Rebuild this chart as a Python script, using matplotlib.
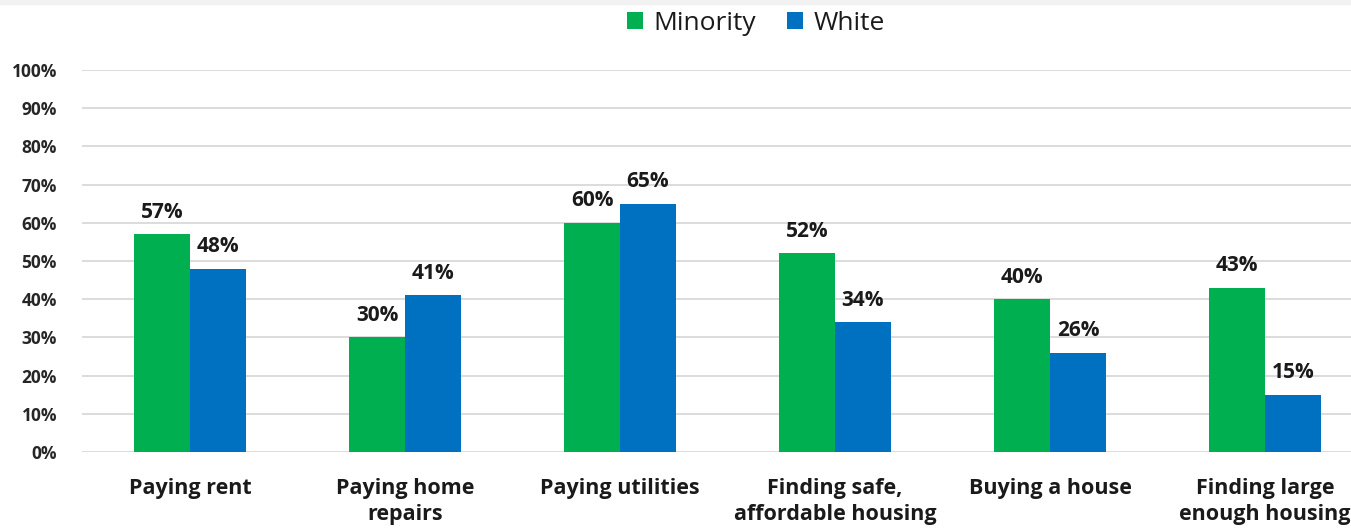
import matplotlib
matplotlib.use("Agg")
import matplotlib.pyplot as plt
import numpy as np
from matplotlib.patches import Rectangle

categories = ["Paying rent", "Paying home\nrepairs", "Paying utilities",
              "Finding safe,\naffordable housing", "Buying a house",
              "Finding large\nenough housing"]
minority = [57, 30, 60, 52, 40, 43]
white = [48, 41, 65, 34, 26, 15]
yticks = [0, 10, 20, 30, 40, 50, 60, 70, 80, 90, 100]

GREEN = "#00B050"
BLUE = "#0070C0"
FONT = ["Open Sans", "DejaVu Sans"]

W, H = 1351, 529
fig = plt.figure(figsize=(W / 100, H / 100), dpi=100)
fig.patches.append(Rectangle((0, 1 - 4 / H), 1, 4 / H, transform=fig.transFigure,
                             color="#f2f2f2", zorder=0))

left, right, bottom, top = 82, 1351, 452, 70
ax = fig.add_axes([left / W, 1 - bottom / H, (right - left) / W, (bottom - top) / H])

x = np.arange(len(categories))
bw = 0.26
b1 = ax.bar(x - bw / 2, minority, bw, color=GREEN, label="Minority", zorder=3)
b2 = ax.bar(x + bw / 2, white, bw, color=BLUE, label="White", zorder=3)

for bars, vals in ((b1, minority), (b2, white)):
    for r, v in zip(bars, vals):
        ax.text(r.get_x() + r.get_width() / 2, v + 3.0, f"{v}%", ha="center", va="bottom",
                fontsize=15, fontweight="bold", family=FONT, color="#1a1a1a")

ax.set_xlim(-0.502, 5.40)
ax.set_ylim(0, 100)
ax.set_yticks(yticks)
ax.set_yticklabels([f"{t}%" for t in yticks], fontsize=12.5, fontweight="bold", family=FONT,
                   color="#262626")
ax.set_xticks(x)
ax.set_xticklabels(categories, fontsize=15.5, fontweight="bold", family=FONT,
                   color="#1a1a1a", linespacing=1.3)
ax.tick_params(axis="both", length=0)
ax.tick_params(axis="y", pad=18)
ax.tick_params(axis="x", pad=19)
ax.grid(axis="y", color="#d9d9d9", linewidth=1.3, zorder=0)
for s in ax.spines.values():
    s.set_visible(False)

leg = fig.legend(handles=[b1, b2], labels=["Minority", "White"], loc="center",
                 bbox_to_anchor=(756 / W, 1 - 23 / H), ncol=2, frameon=False,
                 prop={"family": FONT, "size": 19}, handlelength=0.6, handleheight=0.6,
                 handletextpad=0.4, columnspacing=1.2)
for t in leg.get_texts():
    t.set_color("#1a1a1a")

fig.savefig("out.png", dpi=100)
